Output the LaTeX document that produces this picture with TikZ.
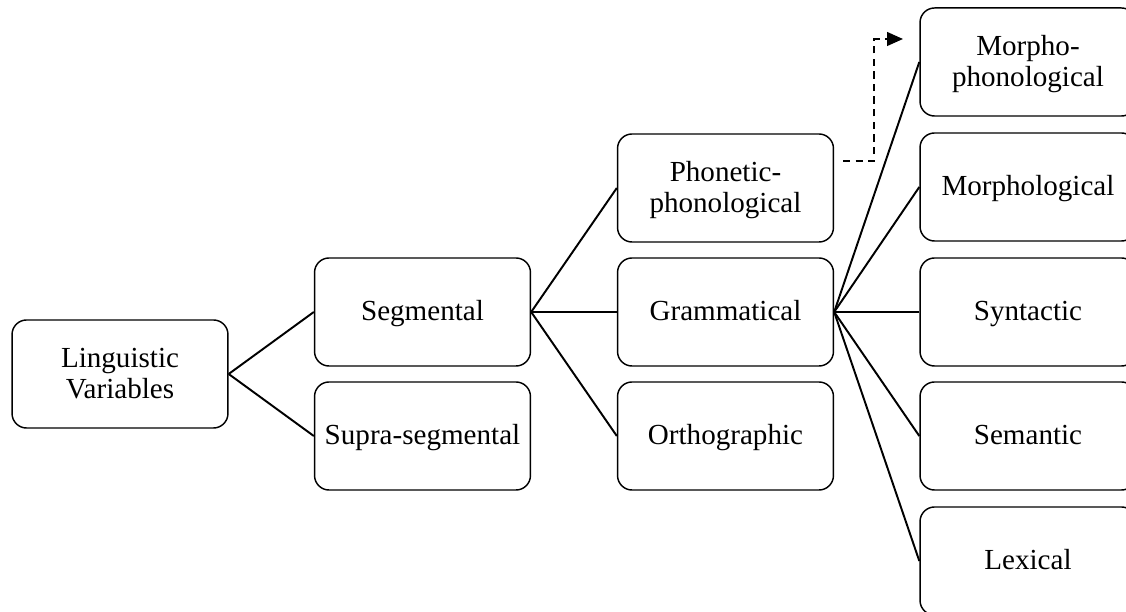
\documentclass[tikz,border=0pt]{standalone}
\usepackage{fontspec}
\setmainfont{Liberation Serif}
\usetikzlibrary{arrows.meta}

\begin{document}
\begin{tikzpicture}[x=0.0145cm,y=-0.0145cm,line width=0.8pt,
  box/.style={draw,line width=0.6pt,rounded corners=6pt,minimum width=3.13cm,
    minimum height=1.566cm,align=center,font=\fontsize{12}{13}\selectfont,
    text height=9.2pt,text depth=1.8pt},
  tall/.style={text height=22.2pt},
  link/.style={line width=0.8pt},
  hint/.style={dash pattern=on 3pt off 2.2pt,line width=0.8pt,
    -{Triangle[length=6.5pt,width=5.6pt]}}]
\clip (0,0) rectangle (1126,612);
\useasboundingbox (0,0) rectangle (1126,612);
% ---------- root and first split ----------
\node[box,tall] (ling) at (120,374) {Linguistic\\Variables};
\node[box] (seg)   at (422.5,312) {Segmental};
\node[box] (supra) at (422.5,436) {Supra-segmental};
% ---------- second column ----------
\node[box,tall] (phon) at (725.5,188) {Phonetic-\\phonological};
\node[box] (gram) at (725.5,312) {Grammatical};
\node[box] (orth) at (725.5,436) {Orthographic};
% ---------- grammatical levels (run off the right edge) ----------
\node[box,tall] (mphon) at (1028,62) {Morpho-\\phonological};
\node[box] (morph) at (1028,187) {Morphological};
\node[box] (synt)  at (1028,312) {Syntactic};
\node[box] (sem)   at (1028,436) {Semantic};
\node[box] (lex)   at (1028,561) {Lexical};
% connectors
\foreach \t in {seg,supra}{\draw[link] (ling.east) -- (\t.west);}
\foreach \t in {phon,gram,orth}{\draw[link] (seg.east) -- (\t.west);}
\foreach \t in {mphon,morph,synt,sem,lex}{\draw[link] (gram.east) -- (\t.west);}
% dashed hint from phonetic-phonological up to morpho-phonological
\coordinate (hstart) at (843,161);
\coordinate (hturn)  at (874,39);
\coordinate (htip)   at (903,39);
\draw[hint] (hstart) -| (hturn) -- (htip);
\end{tikzpicture}
\end{document}
